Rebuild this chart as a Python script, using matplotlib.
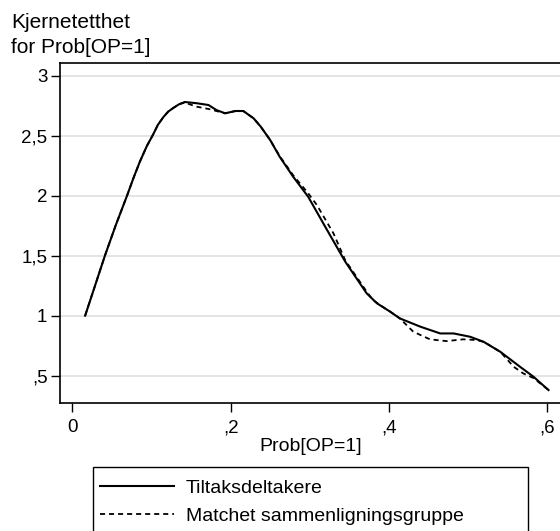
import numpy as np
from matplotlib import pyplot as plt
from matplotlib.patches import Rectangle

plt.rcParams['font.family'] = ['Liberation Sans', 'DejaVu Sans']

# Tiltaksdeltakere (solid)
x_delt = [0.016, 0.0285, 0.041, 0.0545, 0.069, 0.077, 0.085, 0.094, 0.102, 0.108,
          0.115, 0.121, 0.128, 0.135, 0.142, 0.157, 0.172, 0.182, 0.193, 0.206,
          0.216, 0.229, 0.238, 0.250, 0.262, 0.279, 0.298, 0.322, 0.345, 0.372,
          0.385, 0.402, 0.414, 0.440, 0.465, 0.482, 0.503, 0.520, 0.541, 0.566,
          0.583, 0.602]
y_delt = [1.00, 1.25, 1.50, 1.75, 2.00, 2.145, 2.28, 2.413, 2.51, 2.59,
          2.655, 2.70, 2.733, 2.762, 2.78, 2.77, 2.755, 2.713, 2.686, 2.705,
          2.705, 2.644, 2.575, 2.463, 2.324, 2.158, 1.991, 1.713, 1.449, 1.186,
          1.103, 1.032, 0.977, 0.908, 0.852, 0.852, 0.824, 0.782, 0.699, 0.574,
          0.491, 0.38]

# Matchet sammenligningsgruppe (dashed)
x_match = [0.016, 0.0285, 0.041, 0.0545, 0.069, 0.077, 0.085, 0.094, 0.102, 0.108,
           0.115, 0.121, 0.128, 0.135, 0.142, 0.157, 0.172, 0.182, 0.193, 0.206,
           0.216, 0.229, 0.238, 0.250, 0.262, 0.279, 0.298, 0.309, 0.330, 0.345,
           0.372, 0.380, 0.389, 0.402, 0.414, 0.431, 0.452, 0.473, 0.494, 0.511,
           0.520, 0.541, 0.558, 0.570, 0.583, 0.602]
y_match = [1.00, 1.25, 1.50, 1.75, 2.00, 2.145, 2.28, 2.413, 2.51, 2.59,
           2.655, 2.70, 2.733, 2.762, 2.775, 2.741, 2.722, 2.705, 2.686, 2.705,
           2.705, 2.644, 2.575, 2.463, 2.33, 2.17, 2.02, 1.922, 1.686, 1.46,
           1.20, 1.13, 1.088, 1.032, 0.977, 0.866, 0.803, 0.788, 0.803, 0.797,
           0.782, 0.699, 0.574, 0.519, 0.48, 0.38]

x_ticks = [0, 0.2, 0.4, 0.6]
x_labels = ['0', ',2', ',4', ',6']
y_ticks = [0.5, 1, 1.5, 2, 2.5, 3]
y_labels = [',5', '1', '1,5', '2', '2,5', '3']

W, H = 560, 531
fig = plt.figure(figsize=(W / 100, H / 100), dpi=100)
ax = fig.add_axes([60 / W, 1 - 403.3 / H, 502 / W, 340.3 / H])

l1, = ax.plot(x_delt, y_delt, color='black', lw=1.5, label='Tiltaksdeltakere')
l2, = ax.plot(x_match, y_match, color='black', lw=1.3, linestyle=(0, (2.8, 2.2)),
              label='Matchet sammenligningsgruppe')

ax.set_xlim(-0.0158, 0.619)
ax.set_ylim(0.27, 3.105)
ax.set_xticks(x_ticks)
ax.set_xticklabels(x_labels)
ax.set_yticks(y_ticks)
ax.set_yticklabels(y_labels)
ax.tick_params(direction='out', length=6.5, width=1, labelsize=13.5, color='black')
ax.tick_params(axis='x', pad=5)
ax.tick_params(axis='y', pad=2.5)
ax.yaxis.grid(True, color='#e4e4e4', lw=1.4)
ax.set_axisbelow(True)
for s in ['left', 'bottom', 'top']:
    ax.spines[s].set_linewidth(1.2)
ax.spines['right'].set_visible(False)

ax.set_xlabel('Prob[OP=1]', fontsize=14, labelpad=1.5)

fig.text(11 / W, 1 - 28 / H, 'Kjernetetthet', fontsize=15, va='baseline')
fig.text(11 / W, 1 - 53 / H, 'for Prob[OP=1]', fontsize=15, va='baseline')

# legend frame (runs off the bottom edge as in the original)
frame = Rectangle((92.5 / W, -0.05), 435 / W, 1 - 467.3 / H + 0.05,
                  transform=fig.transFigure, fill=False, edgecolor='black',
                  lw=1.0, clip_on=False)
fig.patches.append(frame)

leg = fig.legend(handles=[l1, l2], loc='upper left',
                 bbox_to_anchor=(92.5 / W, 1 - 471.7 / H),
                 borderaxespad=0, fontsize=14, frameon=False,
                 handlelength=3.8, handletextpad=0.6, borderpad=0.4,
                 labelspacing=0.51)

fig.savefig('out.png', dpi=100)
